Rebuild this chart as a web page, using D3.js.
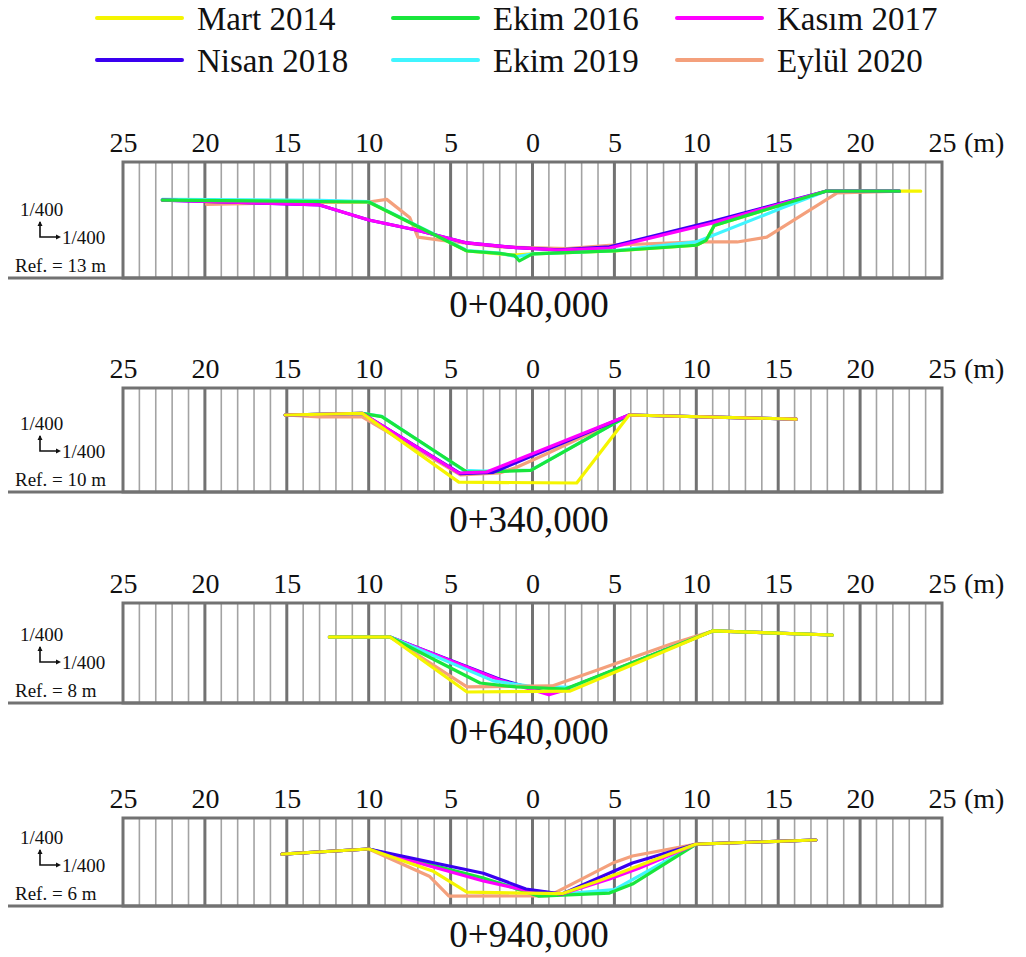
<!DOCTYPE html>
<html>
<head>
<meta charset="utf-8">
<script src="https://cdn.jsdelivr.net/npm/d3@7"></script>
<style>
  html, body { margin: 0; padding: 0; background: #fff; }
  svg { display: block; }
  text { font-family: "Liberation Serif", "Times New Roman", serif; fill: #111; }
</style>
</head>
<body>
<svg id="chart" width="1026" height="957"></svg>
<script>
// ---------------- DATA ----------------
const seriesNames = ["Mart 2014", "Ekim 2016", "Kasım 2017", "Nisan 2018", "Ekim 2019", "Eylül 2020"];
const seriesColors = ["#f5f500", "#19e63c", "#ff00ff", "#3a00f0", "#40f5ff", "#f4a07c"];
const xTickValues = [-25, -20, -15, -10, -5, 0, 5, 10, 15, 20, 25];
const stations = ["0+040,000", "0+340,000", "0+640,000", "0+940,000"];
const refLevels = [13, 10, 8, 6];

// each: [distance from axis (m, left negative), elevation (m)]
// Station 0+040,000
const s040_mart2014 = [[-22.6,17.76],[-10,17.64],[-4,14.65],[-1.2,14.4],[0,14.47],[5,14.65],[10,15.0],[10.6,15.3],[11.1,16.2],[17.9,18.3],[23.7,18.3]];
const s040_ekim2016 = [[-22.6,17.76],[-10,17.64],[-4,14.65],[-2,14.5],[-1.1,14.38],[-0.8,14.04],[0,14.47],[4.9,14.65],[10,15.0],[10.6,15.3],[11.1,16.2],[17.9,18.3],[22.4,18.3]];
const s040_kasim2017 = [[-22.6,17.76],[-13,17.46],[-10,16.54],[-7.1,15.93],[-4,15.14],[-1,14.85],[1.6,14.71],[4.7,14.83],[11,16.36],[17.9,18.3],[22.4,18.3]];
const s040_nisan2018 = [[-22.6,17.76],[-13,17.46],[-10,16.54],[-7.1,15.93],[-4,15.14],[-1,14.85],[1.6,14.72],[4.7,14.9],[11,16.46],[17.9,18.3],[22.4,18.3]];
const s040_ekim2019 = [[-22.6,17.8],[-13,17.74],[-10,17.66],[-4,14.68],[-2,14.52],[-1,14.3],[0,14.47],[5,14.67],[10,15.2],[15.3,17.3],[17.9,18.3],[22.4,18.3]];
const s040_eylul2020 = [[-19.9,17.5],[-14,17.6],[-10,17.64],[-8.9,17.8],[-7.5,16.7],[-7.0,15.5],[-5.5,15.3],[-2,14.9],[2.1,14.8],[4.7,15.0],[10.2,15.2],[12.5,15.2],[14.3,15.5],[18.6,18.2],[22.4,18.3]];

// Station 0+340,000
const s340_mart2014 = [[-15.1,14.7],[-10.4,14.8],[-4.5,10.6],[2.7,10.55],[5.9,14.7],[16.1,14.45]];
const s340_ekim2016 = [[-15.1,14.7],[-10.4,14.8],[-9.2,14.6],[-4.0,11.22],[-3.0,11.22],[-0.1,11.32],[5.9,14.7],[16.1,14.45]];
const s340_kasim2017 = [[-15.1,14.7],[-10.4,14.8],[-4.5,11.16],[-2.8,11.22],[5.9,14.7],[16.1,14.45]];
const s340_nisan2018 = [[-15.1,14.7],[-10.4,14.8],[-4.4,11.12],[-2.4,11.2],[5.9,14.7],[16.1,14.45]];
const s340_ekim2019 = [[-15.1,14.7],[-10.4,14.8],[-9.2,14.62],[-4.2,11.32],[-3.0,11.28],[-0.1,11.34],[5.9,14.7],[16.1,14.45]];
const s340_eylul2020 = [[-15.1,14.7],[-13,14.58],[-10.4,14.58],[-4.4,11.05],[-2.0,11.16],[-1.0,11.5],[1.0,12.4],[5.9,14.7],[16.1,14.45]];

// Station 0+640,000
const s640_mart2014 = [[-12.4,12.03],[-8.7,12.03],[-4.0,8.67],[2.3,8.73],[11,12.4],[18.3,12.15]];
const s640_ekim2016 = [[-12.4,12.03],[-8.7,12.03],[-3.2,9.22],[-1,8.98],[2.0,8.85],[11,12.4],[18.3,12.15]];
const s640_kasim2017 = [[-12.4,12.03],[-8.7,12.03],[-2,9.4],[1,8.5],[2,8.8],[11,12.4],[18.3,12.15]];
const s640_nisan2018 = [[-12.4,12.03],[-8.7,12.03],[-2,9.45],[1,8.6],[2,8.82],[11,12.4],[18.3,12.15]];
const s640_ekim2019 = [[-12.4,12.03],[-8.7,12.03],[-2.4,9.35],[0,9.0],[2.5,8.95],[11,12.4],[18.3,12.15]];
const s640_eylul2020 = [[-12.4,12.03],[-8.7,12.03],[-4.0,8.98],[1.2,9.04],[8.5,11.62],[11,12.4],[18.3,12.15]];

// Station 0+940,000
const s940_mart2014 = [[-15.3,9.17],[-10,9.48],[-6.1,8.14],[-4.0,6.85],[1.8,6.75],[4.1,7.55],[10,9.78],[17.3,10.03]];
const s940_ekim2016 = [[-15.3,9.17],[-10,9.48],[-3.0,7.71],[0.4,6.6],[4.7,6.79],[6.1,7.34],[10,9.78],[17.3,10.03]];
const s940_kasim2017 = [[-15.3,9.17],[-10,9.48],[-3,7.53],[-0.5,6.98],[1.8,6.73],[4.7,7.65],[6.5,8.3],[10,9.78],[17.3,10.03]];
const s940_nisan2018 = [[-15.3,9.17],[-10,9.48],[-3.0,8.0],[-0.4,7.04],[1.8,6.73],[6.1,8.62],[10,9.78],[17.3,10.03]];
const s940_ekim2019 = [[-15.3,9.17],[-10,9.48],[-3,7.65],[0,6.85],[1.8,6.73],[5,7.0],[10,9.78],[17.3,10.03]];
const s940_eylul2020 = [[-15.3,9.17],[-10,9.48],[-6.3,7.82],[-5.1,6.6],[1.0,6.62],[4.9,8.62],[6.1,9.05],[10,9.78],[17.3,10.03]];

const panelSeries = [
  [s040_mart2014, s040_ekim2016, s040_kasim2017, s040_nisan2018, s040_ekim2019, s040_eylul2020],
  [s340_mart2014, s340_ekim2016, s340_kasim2017, s340_nisan2018, s340_ekim2019, s340_eylul2020],
  [s640_mart2014, s640_ekim2016, s640_kasim2017, s640_nisan2018, s640_ekim2019, s640_eylul2020],
  [s940_mart2014, s940_ekim2016, s940_kasim2017, s940_nisan2018, s940_ekim2019, s940_eylul2020]
];
// drawing order (series indices, first drawn at bottom)
const drawOrder = [
  [5, 0, 4, 3, 2, 1],
  [4, 5, 1, 3, 2, 0],
  [3, 2, 4, 5, 1, 0],
  [4, 5, 1, 2, 3, 0]
];

// ---------------- LAYOUT ----------------
const panelTop = [162, 388, 603, 818];
const panelBottom = [278, 492, 703, 906];
const titleBaseline = [317, 532, 744, 947];
const xLeft = 123, xRight = 942;

const svg = d3.select("#chart");
const x = d3.scaleLinear().domain([-25, 25]).range([xLeft, xRight]);
const pxPerM = (xRight - xLeft) / 50;

// legend
const legendCols = [97, 393, 677];
const legendRows = [18, 60];
seriesNames.forEach((name, i) => {
  const col = i % 3, row = Math.floor(i / 3);
  const g = svg.append("g").attr("transform", `translate(${legendCols[col]},${legendRows[row]})`);
  g.append("line").attr("x1", 0).attr("x2", 85).attr("y1", 0).attr("y2", 0)
    .attr("stroke", seriesColors[i]).attr("stroke-width", 4).attr("stroke-linecap", "round");
  g.append("text").attr("x", 100).attr("y", 12).attr("font-size", 33).text(name);
});

// panels
stations.forEach((st, p) => {
  const top = panelTop[p], bottom = panelBottom[p];
  const ref = refLevels[p];
  const y = d3.scaleLinear().domain([ref, ref + (bottom - top) / pxPerM]).range([bottom, top]);
  const g = svg.append("g");

  // minor grid (every 1 m)
  const minor = d3.range(-24, 25, 1).filter(v => v % 5 !== 0);
  g.selectAll("line.minor").data(minor).enter().append("line")
    .attr("x1", d => x(d)).attr("x2", d => x(d)).attr("y1", top).attr("y2", bottom)
    .attr("stroke", "#a3a3a3").attr("stroke-width", 1.6);
  // major grid (every 5 m)
  g.selectAll("line.major").data(xTickValues.slice(1, -1)).enter().append("line")
    .attr("x1", d => x(d)).attr("x2", d => x(d)).attr("y1", top).attr("y2", bottom)
    .attr("stroke", "#727272").attr("stroke-width", 3);
  // frame
  g.append("rect").attr("x", xLeft).attr("y", top).attr("width", xRight - xLeft).attr("height", bottom - top)
    .attr("fill", "none").attr("stroke", "#727272").attr("stroke-width", 3);
  // baseline extended to the left
  g.append("line").attr("x1", 8).attr("x2", xRight).attr("y1", bottom).attr("y2", bottom)
    .attr("stroke", "#727272").attr("stroke-width", 3);

  // axis labels (top)
  const axis = d3.axisTop(x).tickValues(xTickValues).tickSize(0).tickPadding(0)
    .tickFormat(d => Math.abs(d));
  const ag = g.append("g").attr("transform", `translate(0,${top - 10})`).call(axis);
  ag.select(".domain").remove();
  ag.selectAll("text").attr("font-size", 28).attr("fill", "#111")
    .attr("font-family", "'Liberation Serif', 'Times New Roman', serif").attr("dy", 0);
  g.append("text").attr("x", x(25) + 22).attr("y", top - 10).attr("font-size", 28).text("(m)");

  // left annotations
  const b = bottom;
  g.append("text").attr("x", 20).attr("y", b - 62).attr("font-size", 19).text("1/400");
  const cy = b - 41;
  g.append("path").attr("d", `M40,${cy - 15} L40,${cy} L58,${cy}`).attr("fill", "none")
    .attr("stroke", "#111").attr("stroke-width", 1.6);
  g.append("path").attr("d", `M37.5,${cy - 11} L40,${cy - 16} L42.5,${cy - 11} Z`).attr("fill", "#111");
  g.append("path").attr("d", `M56,${cy - 2.5} L61,${cy} L56,${cy + 2.5} Z`).attr("fill", "#111");
  g.append("text").attr("x", 62).attr("y", b - 34).attr("font-size", 19).text("1/400");
  g.append("text").attr("x", 15).attr("y", b - 6).attr("font-size", 19).text(`Ref. = ${ref} m`);

  // profiles
  const line = d3.line().x(d => x(d[0])).y(d => y(d[1]));
  drawOrder[p].forEach(si => {
    g.append("path").datum(panelSeries[p][si]).attr("d", line)
      .attr("fill", "none").attr("stroke", seriesColors[si]).attr("stroke-width", 3.2)
      .attr("stroke-linejoin", "round").attr("stroke-linecap", "round");
  });

  // station title
  g.append("text").attr("x", 529).attr("y", titleBaseline[p]).attr("text-anchor", "middle")
    .attr("font-size", 37).text(st);
});
</script>
</body>
</html>
